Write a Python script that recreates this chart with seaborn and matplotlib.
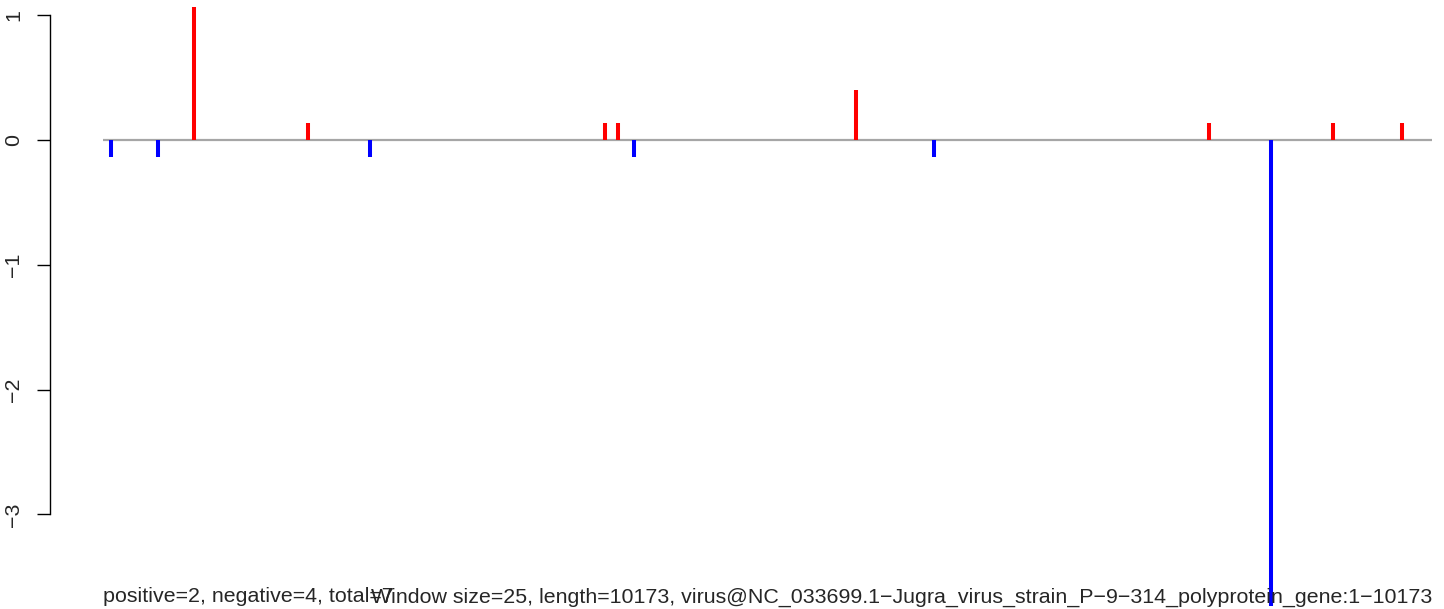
import matplotlib
matplotlib.use("Agg")
import matplotlib.pyplot as plt
import seaborn as sns
import numpy as np

# ---- data ----
positions = [62, 422, 697, 1569, 2044, 3842, 3941, 4064, 5762, 6359, 8463, 8937, 9415, 9940]
values = [-0.1333, -0.1333, 1.0667, 0.1333, -0.1333, 0.1333, 0.1333, -0.1333,
          0.4, -0.1333, 0.1333, -3.7333, 0.1333, 0.1333]
seq_start, seq_end = 1, 10173
yticks = [1, 0, -1, -2, -3]
left_text = "positive=2, negative=4, total=7"
right_text = ("Window size=25, length=10173, "
              "virus@NC_033699.1\u2212Jugra_virus_strain_P\u22129\u2212314_polyprotein_gene:1\u221210173")

sns.set_style("white")
plt.rcParams['font.family'] = ['Liberation Sans', 'DejaVu Sans']

W, H = 1444, 609
fig = plt.figure(figsize=(W / 100, H / 100), dpi=100)
ax_left_px = 50
ax = fig.add_axes([ax_left_px / W, 0, 1 - ax_left_px / W, 1])

# mapping calibrated to the reference: x=1 -> px 103, x=10173 -> px 1432
sx = (1432 - 103) / (seq_end - seq_start)
ax.set_xlim(seq_start - (103 - ax_left_px) / sx, seq_start + (W - 103) / sx)
sy = 124.8  # px per unit
ax.set_ylim(-(H - 140) / sy, 140 / sy)

ax.hlines(0, seq_start, seq_end, color="#A6A6A6", linewidth=1.6, zorder=1)
colors = ["#FF0000" if v > 0 else "#0000FF" for v in values]
ax.vlines(positions, 0, values, colors=colors, linewidth=2.9, zorder=2,
          capstyle="butt")

fs = 15.4
ax.text(seq_start, -3.705, left_text, ha="left", va="baseline", fontsize=fs)
ax.text(seq_end, -3.705, right_text, ha="right", va="baseline", fontsize=fs)

for s in ["top", "right", "bottom"]:
    ax.spines[s].set_visible(False)
ax.spines["left"].set_bounds(-3, 1)
ax.spines["left"].set_linewidth(1.0)
ax.spines["left"].set_color("black")
ax.set_xticks([])
ax.set_yticks(yticks)
ax.set_yticklabels([str(t).replace("-", "\u2212") for t in yticks], rotation=90,
                   va="center", fontsize=fs)
ax.tick_params(axis="y", direction="out", length=9.5, width=1.0, color="black",
               pad=10, left=True)
ax.patch.set_alpha(0)

fig.savefig("out.png", dpi=100, facecolor="white")
